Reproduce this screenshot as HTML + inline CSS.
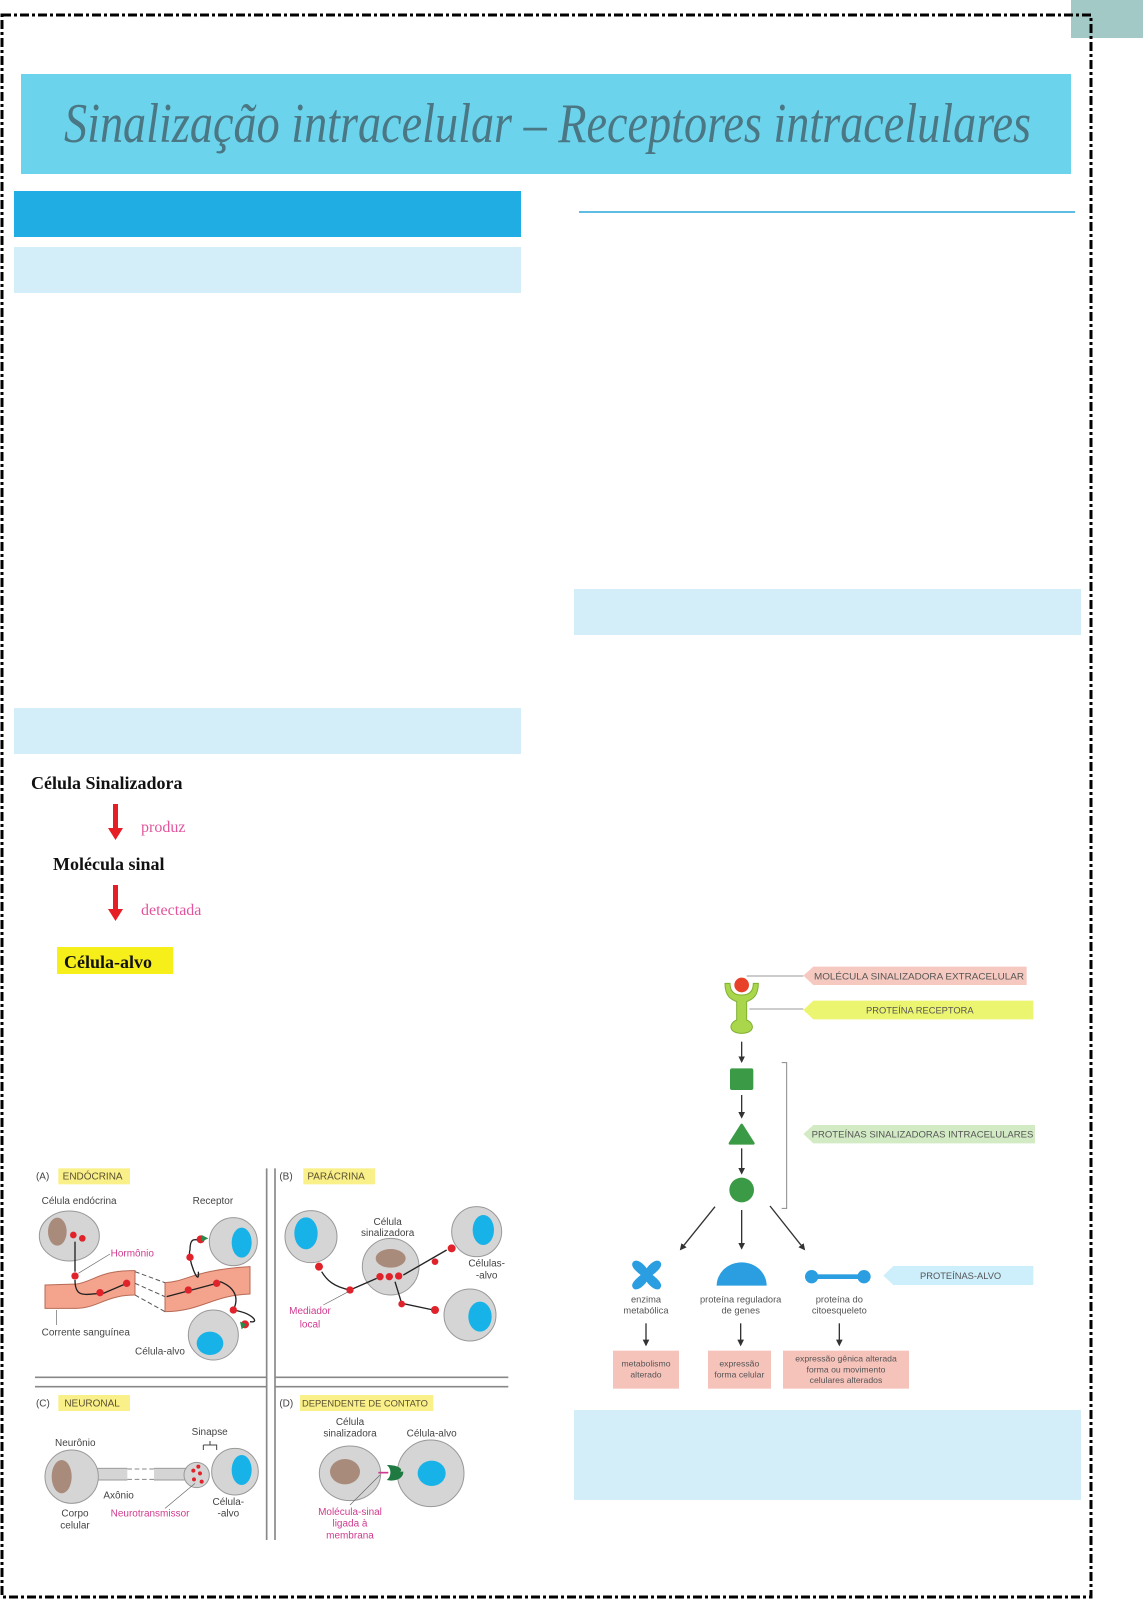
<!DOCTYPE html>
<html><head><meta charset="utf-8"><style>
html,body{margin:0;padding:0;background:#fff;}
svg{display:block;}
</style></head><body>
<svg width="1143" height="1601" viewBox="0 0 1143 1601" xmlns="http://www.w3.org/2000/svg" font-family="Liberation Sans, sans-serif">
<defs>
<marker id="ah" viewBox="0 0 10 10" refX="8" refY="5" markerWidth="5" markerHeight="5" orient="auto"><path d="M0,0 L10,5 L0,10 z" fill="#333"/></marker>
</defs>
<rect x="1071" y="0" width="72" height="38" fill="#a3c9c6"/>
<rect x="2" y="15" width="1089" height="1582" fill="none" stroke="#000" stroke-width="3" stroke-dasharray="9 3 3 3"/>
<rect x="21" y="74" width="1050" height="100" fill="#70d9f1"/>
<rect x="21" y="74" width="1050" height="100" fill="#5cc6de" opacity="0.25"/>
<text x="64" y="142" textLength="967" lengthAdjust="spacingAndGlyphs" font-family="Liberation Serif, serif" font-style="italic" font-size="56" fill="#4b7683">Sinalização intracelular – Receptores intracelulares</text>
<rect x="14" y="191" width="507" height="46" fill="#1fade3"/>
<rect x="14" y="247" width="507" height="46" fill="#d4eef9"/>
<rect x="14" y="708" width="507" height="46" fill="#d4eef9"/>
<line x1="579" y1="212" x2="1075" y2="212" stroke="#2aa5d8" stroke-width="1.5"/>
<rect x="574" y="589" width="507" height="46" fill="#d4eef9"/>
<rect x="574" y="1410" width="507" height="90" fill="#d4eef9"/>

<g font-family="Liberation Serif, serif" font-weight="bold" font-size="18" fill="#111">
<text x="31" y="789">Célula Sinalizadora</text>
<text x="53" y="870">Molécula sinal</text>
<rect x="57" y="947" width="116" height="27" fill="#f7ef1a"/>
<text x="64" y="968">Célula-alvo</text>
</g>
<g fill="#e61e25">
<rect x="113" y="804" width="5" height="25"/><path d="M108,828 L123,828 L115.5,840 z"/>
<rect x="113" y="885" width="5" height="25"/><path d="M108,909 L123,909 L115.5,921 z"/>
</g>
<g font-family="Liberation Serif, serif" font-size="16" fill="#e2559d">
<text x="141" y="832">produz</text>
<text x="141" y="915">detectada</text>
</g>

<g transform="translate(20,1130) scale(0.33333)" font-size="30" fill="#444">
<g stroke="#888" stroke-width="5" fill="none">
<line x1="740" y1="115" x2="740" y2="1230"/><line x1="765" y1="115" x2="765" y2="1230"/>
<line x1="45" y1="742" x2="740" y2="742"/><line x1="45" y1="770" x2="740" y2="770"/>
<line x1="765" y1="742" x2="1465" y2="742"/><line x1="765" y1="770" x2="1465" y2="770"/>
</g>
<rect x="115" y="115" width="215" height="48" fill="#faf08a"/>
<rect x="850" y="115" width="215" height="48" fill="#faf08a"/>
<rect x="115" y="795" width="215" height="48" fill="#faf08a"/>
<rect x="840" y="795" width="400" height="48" fill="#faf08a"/>
<text x="48" y="148">(A)</text><text x="128" y="148" fill="#5a5030">ENDÓCRINA</text>
<text x="778" y="148">(B)</text><text x="862" y="148" fill="#5a5030">PARÁCRINA</text>
<text x="48" y="830">(C)</text><text x="133" y="830" fill="#5a5030">NEURONAL</text>
<text x="778" y="830">(D)</text><text x="846" y="830" fill="#5a5030" font-size="28">DEPENDENTE DE CONTATO</text>
<text x="65" y="222">Célula endócrina</text><text x="518" y="222">Receptor</text>
<path d="M75,465 L170,462 C220,455 240,420 345,422 L345,495 C260,495 230,535 170,535 L75,535 z" fill="#f4a38c" stroke="#b76a55" stroke-width="3"/>
<path d="M435,458 C500,455 520,420 690,410 L690,492 C580,495 540,545 435,545 z" fill="#f4a38c" stroke="#b76a55" stroke-width="3"/>
<g stroke="#555" stroke-width="3" stroke-dasharray="14 8" fill="none"><path d="M345,425 L435,458"/><path d="M345,495 L435,545"/><path d="M345,460 L435,500"/></g>
<ellipse cx="148" cy="318" rx="90" ry="75" fill="#d5d5d5" stroke="#999" stroke-width="3"/>
<ellipse cx="112" cy="305" rx="28" ry="42" fill="#a98b7c"/>
<circle cx="640" cy="335" r="72" fill="#d5d5d5" stroke="#999" stroke-width="3"/>
<ellipse cx="665" cy="338" rx="30" ry="45" fill="#17b3e8"/>
<circle cx="580" cy="615" r="75" fill="#d5d5d5" stroke="#999" stroke-width="3"/>
<ellipse cx="570" cy="640" rx="40" ry="35" fill="#17b3e8"/>
<g stroke="#222" stroke-width="4" fill="none">
<path d="M165,335 L165,425"/><path d="M165,450 C165,510 200,490 250,490 L320,460"/>
<path d="M440,500 L590,460"/><path d="M535,425 C540,480 500,380 510,360 C510,320 525,330 540,330"/>
<path d="M600,455 C640,470 660,500 640,540 C700,550 720,580 690,575"/>
</g>
<g fill="#e0232b"><circle cx="160" cy="315" r="10"/><circle cx="187" cy="325" r="10"/><circle cx="165" cy="438" r="11"/><circle cx="240" cy="488" r="11"/><circle cx="320" cy="460" r="11"/><circle cx="505" cy="480" r="11"/><circle cx="590" cy="460" r="11"/><circle cx="510" cy="382" r="11"/><circle cx="542" cy="328" r="12"/><circle cx="640" cy="540" r="11"/><circle cx="675" cy="583" r="12"/></g>
<g fill="#2a8a4a"><path d="M545,315 l20,10 l-20,10 z"/><path d="M660,575 l20,8 l-15,15 z"/></g>
<text x="272" y="380" fill="#d03a8f">Hormônio</text>
<line x1="270" y1="372" x2="175" y2="430" stroke="#666" stroke-width="2"/>
<text x="65" y="617">Corrente sanguínea</text><line x1="110" y1="540" x2="110" y2="585" stroke="#666" stroke-width="2"/>
<text x="345" y="673">Célula-alvo</text>
<circle cx="873" cy="320" r="78" fill="#d5d5d5" stroke="#999" stroke-width="3"/>
<ellipse cx="858" cy="310" rx="35" ry="48" fill="#17b3e8"/>
<circle cx="1112" cy="410" r="85" fill="#d5d5d5" stroke="#999" stroke-width="3"/>
<ellipse cx="1112" cy="385" rx="45" ry="28" fill="#a98b7c"/>
<circle cx="1370" cy="305" r="75" fill="#d5d5d5" stroke="#999" stroke-width="3"/>
<ellipse cx="1390" cy="300" rx="32" ry="45" fill="#17b3e8"/>
<circle cx="1350" cy="555" r="78" fill="#d5d5d5" stroke="#999" stroke-width="3"/>
<ellipse cx="1380" cy="560" rx="35" ry="45" fill="#17b3e8"/>
<g stroke="#222" stroke-width="4" fill="none"><path d="M990,480 L1070,445"/><path d="M990,480 C940,470 920,450 905,425"/><path d="M1150,435 L1280,360"/><path d="M1125,455 L1145,520 L1240,540"/></g>
<g fill="#e0232b"><circle cx="1080" cy="440" r="11"/><circle cx="1108" cy="440" r="11"/><circle cx="1136" cy="438" r="11"/><circle cx="990" cy="480" r="11"/><circle cx="897" cy="410" r="12"/><circle cx="1245" cy="395" r="10"/><circle cx="1295" cy="355" r="12"/><circle cx="1145" cy="522" r="10"/><circle cx="1245" cy="540" r="12"/></g>
<text x="1103" y="285" text-anchor="middle">Célula</text><text x="1103" y="318" text-anchor="middle">sinalizadora</text>
<text x="1400" y="410" text-anchor="middle">Células-</text><text x="1400" y="445" text-anchor="middle">-alvo</text>
<text x="870" y="552" text-anchor="middle" fill="#d03a8f">Mediador</text><text x="870" y="592" text-anchor="middle" fill="#d03a8f">local</text>
<line x1="910" y1="525" x2="985" y2="485" stroke="#666" stroke-width="2"/>
<rect x="220" y="1015" width="280" height="35" fill="#d5d5d5" stroke="#999" stroke-width="3"/>
<rect x="322" y="1010" width="80" height="45" fill="#fff"/>
<g stroke="#888" stroke-width="3" stroke-dasharray="14 8"><line x1="322" y1="1017" x2="402" y2="1017"/><line x1="322" y1="1048" x2="402" y2="1048"/></g>
<circle cx="155" cy="1040" r="80" fill="#d5d5d5" stroke="#999" stroke-width="3"/>
<ellipse cx="125" cy="1040" rx="30" ry="50" fill="#a98b7c"/>
<circle cx="645" cy="1025" r="70" fill="#d5d5d5" stroke="#999" stroke-width="3"/>
<ellipse cx="665" cy="1020" rx="30" ry="45" fill="#17b3e8"/>
<circle cx="530" cy="1035" r="38" fill="#d5d5d5" stroke="#999" stroke-width="3"/>
<g fill="#e0232b"><circle cx="520" cy="1022" r="6"/><circle cx="540" cy="1030" r="6"/><circle cx="522" cy="1048" r="6"/><circle cx="545" cy="1055" r="6"/><circle cx="535" cy="1010" r="6"/></g>
<path d="M550,945 L550,960 M550,945 L590,945 L590,960 M570,933 L570,945" stroke="#444" stroke-width="3" fill="none"/>
<text x="105" y="948">Neurônio</text><text x="515" y="915">Sinapse</text><text x="250" y="1105">Axônio</text>
<text x="165" y="1160" text-anchor="middle">Corpo</text><text x="165" y="1195" text-anchor="middle">celular</text>
<text x="272" y="1160" fill="#d03a8f">Neurotransmissor</text>
<text x="625" y="1125" text-anchor="middle">Célula-</text><text x="625" y="1160" text-anchor="middle">-alvo</text>
<line x1="435" y1="1135" x2="525" y2="1060" stroke="#666" stroke-width="2"/>
<ellipse cx="990" cy="1030" rx="92" ry="82" fill="#d5d5d5" stroke="#999" stroke-width="3"/>
<ellipse cx="975" cy="1025" rx="45" ry="38" fill="#a98b7c"/>
<circle cx="1232" cy="1030" r="100" fill="#d5d5d5" stroke="#999" stroke-width="3"/>
<ellipse cx="1235" cy="1030" rx="42" ry="38" fill="#17b3e8"/>
<path d="M1100,1005 C1140,1005 1150,1020 1140,1025 L1150,1025 C1150,1050 1120,1055 1100,1050 C1115,1040 1115,1015 1100,1005z" fill="#1e7a40"/>
<path d="M1075,1028 L1105,1028" stroke="#d03a8f" stroke-width="5"/>
<text x="990" y="885" text-anchor="middle">Célula</text><text x="990" y="920" text-anchor="middle">sinalizadora</text>
<text x="1235" y="920" text-anchor="middle">Célula-alvo</text>
<text x="990" y="1155" text-anchor="middle" fill="#d03a8f">Molécula-sinal</text><text x="990" y="1190" text-anchor="middle" fill="#d03a8f">ligada à</text><text x="990" y="1225" text-anchor="middle" fill="#d03a8f">membrana</text>
<line x1="990" y1="1125" x2="1080" y2="1035" stroke="#666" stroke-width="2"/>
</g>

<g transform="translate(590,930) scale(0.33333)" font-size="28" fill="#555">
<path d="M640,137 L670,110 L1310,110 L1310,165 L670,165 z" fill="#f6c9c0"/>
<path d="M640,240 L670,212 L1330,212 L1330,268 L670,268 z" fill="#ecf56f"/>
<path d="M640,612 L670,585 L1335,585 L1335,640 L670,640 z" fill="#d3ebc5"/>
<path d="M880,1037 L910,1008 L1330,1008 L1330,1065 L910,1065 z" fill="#cdeefb"/>
<text x="672" y="148" textLength="630" lengthAdjust="spacingAndGlyphs">MOLÉCULA SINALIZADORA EXTRACELULAR</text>
<text x="828" y="250">PROTEÍNA RECEPTORA</text>
<text x="665" y="623" textLength="665" lengthAdjust="spacingAndGlyphs">PROTEÍNAS SINALIZADORAS INTRACELULARES</text>
<text x="990" y="1047">PROTEÍNAS-ALVO</text>
<g stroke="#999" stroke-width="3"><line x1="470" y1="138" x2="640" y2="138"/><line x1="478" y1="237" x2="640" y2="237"/></g>
<path d="M405,160 C405,205 430,210 440,215 L440,270 C415,280 415,310 455,310 C495,310 495,280 470,270 L470,215 C480,210 505,205 505,160 L490,160 C490,190 470,195 455,195 C440,195 420,190 420,160 z" fill="#a9d64b" stroke="#7fb030" stroke-width="3"/>
<circle cx="455" cy="165" r="22" fill="#e8412a"/>
<g stroke="#333" stroke-width="4" marker-end="url(#ah)">
<line x1="455" y1="335" x2="455" y2="395"/><line x1="455" y1="495" x2="455" y2="562"/><line x1="455" y1="655" x2="455" y2="730"/>
<line x1="375" y1="830" x2="272" y2="958"/><line x1="455" y1="840" x2="455" y2="955"/><line x1="540" y1="828" x2="643" y2="958"/>
<line x1="168" y1="1180" x2="168" y2="1245"/><line x1="452" y1="1180" x2="452" y2="1245"/><line x1="748" y1="1180" x2="748" y2="1245"/>
</g>
<rect x="420" y="415" width="70" height="65" rx="6" fill="#3a9a45"/>
<path d="M420,640 L455,585 L490,640 z" fill="#3a9a45" stroke="#3a9a45" stroke-width="8" stroke-linejoin="round"/>
<circle cx="455" cy="780" r="37" fill="#3a9a45"/>
<path d="M575,398 L590,398 L590,835 L575,835" stroke="#888" stroke-width="3" fill="none"/>
<g fill="#2a9ee0">
<path d="M130,995 C140,985 160,1000 170,1015 C180,1000 200,985 210,995 C222,1008 200,1025 188,1035 C200,1045 222,1062 210,1075 C200,1085 180,1070 170,1055 C160,1070 140,1085 130,1075 C118,1062 140,1045 152,1035 C140,1025 118,1008 130,995z"/>
<path d="M380,1067 A75,70 0 0 1 530,1067 z"/>
<rect x="660" y="1033" width="160" height="14"/><circle cx="665" cy="1040" r="20"/><circle cx="822" cy="1040" r="20"/>
</g>
<g text-anchor="middle">
<text x="168" y="1118">enzima</text><text x="168" y="1150">metabólica</text>
<text x="452" y="1118">proteína reguladora</text><text x="452" y="1150">de genes</text>
<text x="748" y="1118">proteína do</text><text x="748" y="1150">citoesqueleto</text>
</g>
<rect x="69" y="1262" width="198" height="114" fill="#f6c3bb"/>
<rect x="354" y="1262" width="189" height="114" fill="#f6c3bb"/>
<rect x="579" y="1262" width="378" height="114" fill="#f6c3bb"/>
<g text-anchor="middle" font-size="26">
<text x="168" y="1310">metabolismo</text><text x="168" y="1343">alterado</text>
<text x="448" y="1310">expressão</text><text x="448" y="1343">forma celular</text>
<text x="768" y="1295">expressão gênica alterada</text><text x="768" y="1327">forma ou movimento</text><text x="768" y="1359">celulares alterados</text>
</g>
</g>
</svg>
</body></html>
